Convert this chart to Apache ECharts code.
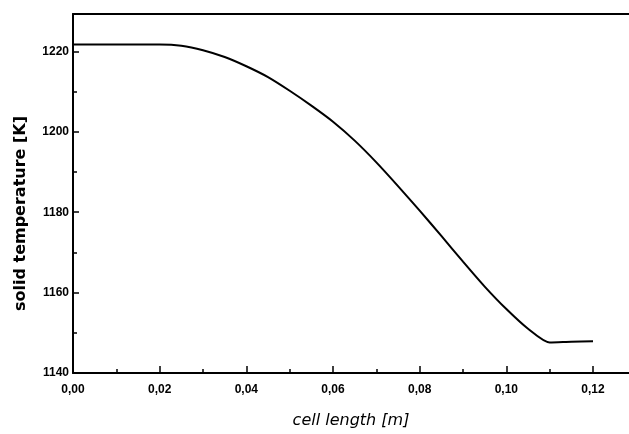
<!DOCTYPE html>
<html>
<head>
<meta charset="utf-8">
<script src="https://cdn.jsdelivr.net/npm/echarts@6/dist/echarts.min.js"></script>
<style>
html,body{margin:0;padding:0;background:#fff;}
#chart{width:629px;height:434px;}
</style>
</head>
<body>
<div id="chart"></div>
<script>
var cellLength = [0, 0.005, 0.01, 0.015, 0.02, 0.025, 0.03, 0.035, 0.04, 0.045, 0.05, 0.055, 0.06, 0.065, 0.07, 0.075, 0.08, 0.085, 0.09, 0.095, 0.10, 0.105, 0.11, 0.115, 0.12];
var solidTemperature = [1221.7, 1221.7, 1221.7, 1221.7, 1221.7, 1221.4, 1220.3, 1218.6, 1216.3, 1213.6, 1210.2, 1206.5, 1202.5, 1197.8, 1192.4, 1186.5, 1180.4, 1174.1, 1167.7, 1161.5, 1155.9, 1151.0, 1147.6, 1147.8, 1147.9];
var xTicks = [0, 0.02, 0.04, 0.06, 0.08, 0.10, 0.12];
var xMinorTicks = [0.01, 0.03, 0.05, 0.07, 0.09, 0.11];
var yTicks = [1140, 1160, 1180, 1200, 1220];
var yMinorTicks = [1150, 1170, 1190, 1210];

var data = cellLength.map(function (x, i) { return [x, solidTemperature[i]]; });
var chart = echarts.init(document.getElementById('chart'), null, {renderer: 'canvas'});
var lbl = {color: '#000', fontFamily: "'Liberation Sans',Arial,sans-serif", fontWeight: 'bold', fontSize: 12};
var X_MIN = 0, X_MAX = 0.1283, Y_MIN = 1140, Y_MAX = 1229.3;
var tickStyle = {color: '#000', width: 1.5};
chart.setOption({
  animation: false,
  backgroundColor: '#fff',
  grid: {left: 73, right: 0, top: 14, bottom: 56},
  xAxis: [{
    type: 'value', position: 'bottom', min: X_MIN, max: X_MAX, interval: 0.02,
    name: 'cell length [m]', nameLocation: 'middle', nameGap: 40,
    nameTextStyle: {color: '#000', fontFamily: "'DejaVu Sans',sans-serif", fontStyle: 'italic', fontSize: 16},
    axisLine: {show: true, lineStyle: {color: '#000', width: 2}},
    axisTick: {show: true, inside: true, length: 7, customValues: xTicks, lineStyle: tickStyle},
    axisLabel: Object.assign({margin: 11, customValues: xTicks, formatter: function (v) {
      return v.toFixed(2).replace('.', ',');
    }}, lbl),
    splitLine: {show: false}
  }, {
    type: 'value', position: 'top', min: X_MIN, max: X_MAX,
    axisLine: {show: true, lineStyle: {color: '#000', width: 2}},
    axisTick: {show: false}, axisLabel: {show: false}, splitLine: {show: false}
  }, {
    type: 'value', position: 'bottom', min: X_MIN, max: X_MAX,
    axisLine: {show: false},
    axisTick: {show: true, inside: true, length: 4, customValues: xMinorTicks, lineStyle: tickStyle},
    axisLabel: {show: false}, splitLine: {show: false}
  }],
  yAxis: [{
    type: 'value', position: 'left', min: Y_MIN, max: Y_MAX, interval: 20,
    name: 'solid temperature [K]', nameLocation: 'middle', nameGap: 44, nameRotate: 90,
    nameTextStyle: {color: '#000', fontFamily: "'DejaVu Sans',sans-serif", fontWeight: 'bold', fontSize: 16, padding: [0, 40, 0, 0]},
    axisLine: {show: true, lineStyle: {color: '#000', width: 2}},
    axisTick: {show: true, inside: true, length: 6, customValues: yTicks, lineStyle: tickStyle},
    axisLabel: Object.assign({margin: 4, customValues: yTicks, formatter: function (v) { return String(Math.round(v)); }}, lbl),
    splitLine: {show: false}
  }, {
    type: 'value', position: 'left', min: Y_MIN, max: Y_MAX,
    axisLine: {show: false},
    axisTick: {show: true, inside: true, length: 4, customValues: yMinorTicks, lineStyle: tickStyle},
    axisLabel: {show: false}, splitLine: {show: false}
  }],
  series: [{
    type: 'line', data: data, showSymbol: false, smooth: 0.25, xAxisIndex: 0, yAxisIndex: 0,
    lineStyle: {color: '#000', width: 2}
  }]
});
</script>
</body>
</html>
